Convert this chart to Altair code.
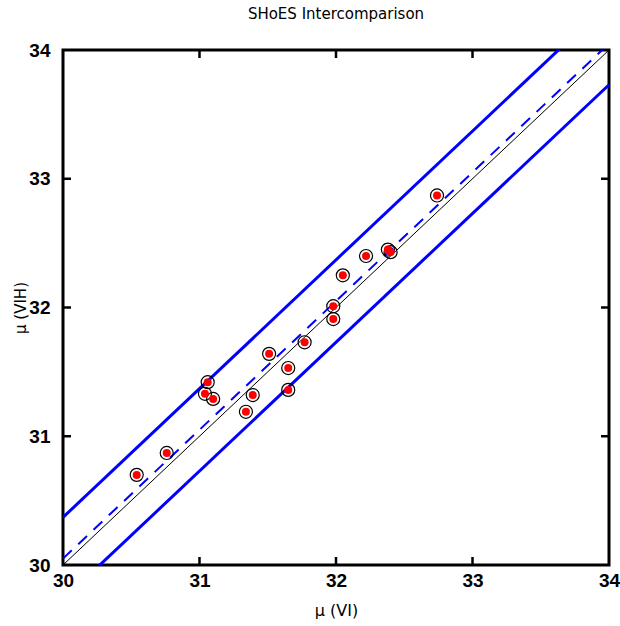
import altair as alt
import pandas as pd

# Data
mu_vi = [30.54, 30.76, 31.06, 31.04, 31.10, 31.39, 31.34, 31.51, 31.77, 31.65,
         31.65, 32.22, 32.38, 32.40, 32.05, 31.98, 31.98, 32.74]
mu_vih = [30.70, 30.87, 31.42, 31.33, 31.29, 31.32, 31.19, 31.64, 31.73, 31.53,
          31.36, 32.40, 32.45, 32.43, 32.25, 32.01, 31.91, 32.87]

# reference lines: y = x + offset
line_names = ["one-to-one", "mean offset", "upper band", "lower band"]
line_offsets = [0.0, 0.05, 0.37, -0.27]
axis_min, axis_max = 30, 34
tick_values = [31, 32, 33]

W, H = 546, 515

pts = pd.DataFrame({"vi": mu_vi, "vih": mu_vih})
rows = []
for name, off in zip(line_names, line_offsets):
    for xv in (axis_min, axis_max):
        rows.append({"line": name, "x": xv, "y": xv + off})
lines = pd.DataFrame(rows)
ticks = pd.DataFrame({"t": tick_values})

xs = alt.Scale(domain=[axis_min, axis_max], nice=False, zero=False)
ys = alt.Scale(domain=[axis_min, axis_max], nice=False, zero=False)

LABEL_FONT = "Liberation Sans Narrow, Liberation Sans"

xaxis = alt.Axis(title="μ (VI)", values=[30, 31, 32, 33, 34], format="d",
                 ticks=False, tickSize=0, domain=False, grid=False,
                 labelFont=LABEL_FONT, labelFontWeight="bold", labelFontSize=19,
                 labelColor="black", labelPadding=6, labelFlush=False, labelOverlap=False,
                 titleFont="DejaVu Sans", titleFontWeight="normal", titleFontSize=16,
                 titleColor="black", titlePadding=12)
yaxis = alt.Axis(title="μ (VIH)", values=[30, 31, 32, 33, 34], format="d",
                 ticks=False, tickSize=0, domain=False, grid=False,
                 labelFont=LABEL_FONT, labelFontWeight="bold", labelFontSize=19,
                 labelColor="black", labelPadding=13, labelFlush=False, labelOverlap=False,
                 titleFont="DejaVu Sans", titleFontWeight="normal", titleFontSize=15,
                 titleColor="black", titlePadding=0)

base_lines = alt.Chart(lines)

one = base_lines.transform_filter(alt.datum.line == "one-to-one").mark_line(
    color="black", strokeWidth=1, clip=True).encode(
    x=alt.X("x:Q", scale=xs, axis=xaxis), y=alt.Y("y:Q", scale=ys, axis=yaxis))
dash = base_lines.transform_filter(alt.datum.line == "mean offset").mark_line(
    color="#0000ff", strokeWidth=2, strokeDash=[12, 9], clip=True).encode(
    x=alt.X("x:Q", scale=xs), y=alt.Y("y:Q", scale=ys))
band = base_lines.transform_filter(
    (alt.datum.line == "upper band") | (alt.datum.line == "lower band")).mark_line(
    color="#0000ff", strokeWidth=3, clip=True).encode(
    x=alt.X("x:Q", scale=xs), y=alt.Y("y:Q", scale=ys), detail="line:N")

ring = alt.Chart(pts).mark_point(shape="circle", filled=False, color="black",
                                 size=170, strokeWidth=1.2, opacity=1).encode(
    x=alt.X("vi:Q", scale=xs), y=alt.Y("vih:Q", scale=ys))
dot = alt.Chart(pts).mark_point(shape="circle", filled=True, color="#ff0000",
                                size=64, opacity=1).encode(
    x=alt.X("vi:Q", scale=xs), y=alt.Y("vih:Q", scale=ys))

tb = alt.Chart(ticks)
tick_bottom = tb.mark_rule(color="black", strokeWidth=2.5).encode(
    x=alt.X("t:Q", scale=xs), y=alt.value(H), y2=alt.value(H - 8))
tick_top = tb.mark_rule(color="black", strokeWidth=2.5).encode(
    x=alt.X("t:Q", scale=xs), y=alt.value(0), y2=alt.value(8))
tick_left = tb.mark_rule(color="black", strokeWidth=2.5).encode(
    y=alt.Y("t:Q", scale=ys), x=alt.value(0), x2=alt.value(8))
tick_right = tb.mark_rule(color="black", strokeWidth=2.5).encode(
    y=alt.Y("t:Q", scale=ys), x=alt.value(W), x2=alt.value(W - 8))

chart = alt.layer(one, dash, band, ring, dot, tick_bottom, tick_top, tick_left, tick_right).properties(
    width=W, height=H,
    title=alt.TitleParams("SHoES Intercomparison", font="DejaVu Sans", fontSize=15,
                          fontWeight="normal", color="black", anchor="middle", offset=19),
    autosize=alt.AutoSizeParams(type="none"),
    padding={"left": 63, "top": 50, "right": 11, "bottom": 61},
).configure(background="white").configure_view(stroke="black", strokeWidth=3)

chart.save("out.html", embed_options={"renderer": "svg", "actions": False})
